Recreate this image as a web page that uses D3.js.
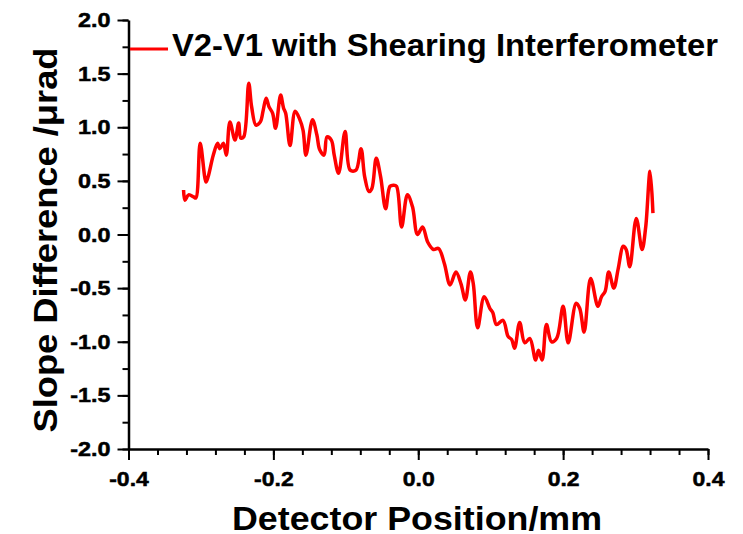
<!DOCTYPE html>
<html>
<head>
<meta charset="utf-8">
<script src="https://cdn.jsdelivr.net/npm/d3@7"></script>
<style>
  body { margin: 0; background: #fff; }
  text { font-family: "Liberation Sans", Arial, sans-serif; font-weight: bold; fill: #000; }
  .tick text { stroke: #000; stroke-width: 0.5px; }
</style>
</head>
<body>
<div id="chart"></div>
<script>
// slope difference curve
var posX = [-0.324, -0.322, -0.317, -0.310, -0.307, -0.301, -0.293, -0.290, -0.283, -0.277,
  -0.274, -0.269, -0.265, -0.260, -0.253, -0.248, -0.245, -0.241, -0.234, -0.230,
  -0.224, -0.218, -0.214, -0.210, -0.206, -0.201, -0.197, -0.190, -0.186, -0.183,
  -0.177, -0.170, -0.164, -0.159, -0.155, -0.146, -0.140, -0.136, -0.130, -0.126,
  -0.120, -0.116, -0.110, -0.101, -0.094, -0.086, -0.079, -0.074, -0.068, -0.064,
  -0.058, -0.052, -0.045, -0.039, -0.034, -0.030, -0.023, -0.015, -0.008, -0.001,
  0.006, 0.013, 0.021, 0.028, 0.036, 0.044, 0.052, 0.059, 0.065, 0.072,
  0.076, 0.082, 0.091, 0.099, 0.103, 0.108, 0.117, 0.124, 0.129, 0.133,
  0.140, 0.147, 0.154, 0.162, 0.166, 0.171, 0.177, 0.184, 0.191, 0.200,
  0.207, 0.218, 0.223, 0.229, 0.238, 0.248, 0.253, 0.258, 0.263, 0.270,
  0.276, 0.283, 0.287, 0.292, 0.301, 0.309, 0.314, 0.320, 0.324];
var slope = [0.415, 0.32, 0.37, 0.35, 0.34, 0.85, 0.49, 0.54, 0.74, 0.85,
  0.80, 0.85, 0.74, 1.05, 0.88, 1.04, 0.90, 0.91, 1.41, 1.19,
  1.02, 1.05, 1.16, 1.27, 1.19, 1.13, 0.99, 1.30, 1.18, 1.13,
  0.83, 1.15, 1.08, 0.97, 0.74, 1.07, 0.93, 0.79, 0.74, 0.91,
  0.88, 0.74, 0.57, 0.96, 0.60, 0.60, 0.80, 0.54, 0.40, 0.43,
  0.71, 0.54, 0.24, 0.45, 0.46, 0.45, 0.07, 0.37, 0.26, 0.00,
  0.07, -0.07, -0.14, -0.13, -0.27, -0.47, -0.35, -0.46, -0.61, -0.35,
  -0.46, -0.87, -0.58, -0.69, -0.73, -0.84, -0.80, -0.95, -0.98, -1.06,
  -0.82, -1.01, -0.97, -1.17, -1.08, -1.17, -0.84, -1.00, -0.97, -0.67,
  -1.01, -0.64, -0.69, -0.91, -0.41, -0.67, -0.58, -0.53, -0.35, -0.50,
  -0.32, -0.11, -0.14, -0.30, 0.15, -0.14, 0.07, 0.59, 0.20];

var xTicks = [-0.4, -0.2, 0.0, 0.2, 0.4];
var yTicks = [-2.0, -1.5, -1.0, -0.5, 0.0, 0.5, 1.0, 1.5, 2.0];
var seriesName = "V2-V1 with Shearing Interferometer";

var svgWidth = 743;
var svgHeight = 534;

var svg = d3.select("#chart")
  .append("svg")
  .attr("width", svgWidth)
  .attr("height", svgHeight);

var xScale = d3.scaleLinear().domain([-0.4, 0.4]).range([128.5, 708]);
var yScale = d3.scaleLinear().domain([-2, 2]).range([449, 20]);

// the original text is a bit wider than Arial, stretch it
function stretch(sel, k) {
  sel.each(function() {
    var len = this.getComputedTextLength();
    d3.select(this).attr("textLength", len * k).attr("lengthAdjust", "spacingAndGlyphs");
  });
}

function fmt(d) { return d.toFixed(1); }

var xMinor = d3.range(-0.4, 0.4001, 0.04).map(function(v) { return Math.round(v * 100) / 100; });
var yMinor = d3.range(-2, 2.001, 0.25);

// minor ticks first
svg.append("g")
  .attr("transform", "translate(0," + yScale(-2) + ")")
  .call(d3.axisBottom(xScale).tickValues(xMinor).tickSize(6).tickSizeOuter(0).tickFormat(""))
  .call(function(g) { g.select(".domain").remove(); })
  .selectAll("line").attr("stroke-width", 2);

svg.append("g")
  .attr("transform", "translate(" + xScale(-0.4) + ",0)")
  .call(d3.axisLeft(yScale).tickValues(yMinor).tickSize(6).tickSizeOuter(0).tickFormat(""))
  .call(function(g) { g.select(".domain").remove(); })
  .selectAll("line").attr("stroke-width", 2);

// major axes
var xAxis = svg.append("g")
  .attr("transform", "translate(0," + yScale(-2) + ")")
  .call(d3.axisBottom(xScale).tickValues(xTicks).tickSize(11).tickSizeOuter(0).tickPadding(11)
    .tickFormat(fmt));
xAxis.select(".domain").attr("stroke-width", 2.5);
xAxis.selectAll("line").attr("stroke-width", 2);
xAxis.selectAll("text").style("font-size", "20.5px").call(stretch, 1.12);

var yAxis = svg.append("g")
  .attr("transform", "translate(" + xScale(-0.4) + ",0)")
  .call(d3.axisLeft(yScale).tickValues(yTicks).tickSize(11).tickSizeOuter(0).tickPadding(7)
    .tickFormat(fmt));
yAxis.select(".domain").attr("stroke-width", 2.5);
yAxis.selectAll("line").attr("stroke-width", 2);
yAxis.selectAll("text").style("font-size", "20.5px").call(stretch, 1.14);

// curve
var data = posX.map(function(x, i) { return [x, slope[i]]; });
var line = d3.line()
  .x(function(d) { return xScale(d[0]); })
  .y(function(d) { return yScale(d[1]); })
  .curve(d3.curveCatmullRom.alpha(0.5));

svg.append("path")
  .datum(data)
  .attr("d", line)
  .attr("fill", "none")
  .attr("stroke", "#ff0000")
  .attr("stroke-width", 3.5)
  .attr("stroke-linejoin", "round");

// legend
svg.append("line")
  .attr("x1", 130).attr("x2", 168)
  .attr("y1", 49).attr("y2", 49)
  .attr("stroke", "#ff0000")
  .attr("stroke-width", 3);

svg.append("text")
  .attr("x", 172)
  .attr("y", 56)
  .style("font-size", "31px")
  .attr("textLength", 546)
  .attr("lengthAdjust", "spacingAndGlyphs")
  .text(seriesName);

// axis titles
svg.append("text")
  .attr("x", 417)
  .attr("y", 530)
  .style("font-size", "34px")
  .attr("text-anchor", "middle")
  .attr("textLength", 370)
  .attr("lengthAdjust", "spacingAndGlyphs")
  .text("Detector Position/mm");

svg.append("text")
  .attr("transform", "translate(57,240) rotate(-90)")
  .style("font-size", "33px")
  .attr("text-anchor", "middle")
  .attr("textLength", 385)
  .attr("lengthAdjust", "spacingAndGlyphs")
  .text("Slope Difference /\u03bcrad");
</script>
</body>
</html>
